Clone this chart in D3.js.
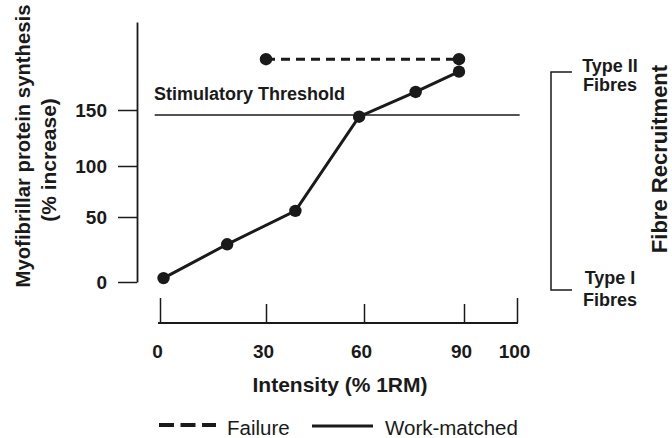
<!DOCTYPE html>
<html>
<head>
<meta charset="utf-8">
<script src="https://cdn.jsdelivr.net/npm/d3@7"></script>
<style>
  body { margin: 0; background: #fff; }
  text { font-family: "Liberation Sans", Arial, sans-serif; fill: #1a1a1a; }
</style>
</head>
<body>
<div id="chart"></div>
<script>
var svgWidth = 672;
var svgHeight = 438;

// data
var intensity = [1, 19, 39, 58.5, 75.5, 88.5];          // % 1RM, work-matched
var synthesis = [3, 29, 56, 144, 166, 184];              // % increase
var failureIntensity = [30, 88.5];
var failureSynthesis = [195, 195];
var threshold = 145.5;
var xTicks = [0, 30, 60, 90, 100];
var yTicks = [0, 50, 100, 150];

var ink = "#1a1a1a";

var svg = d3.select("#chart")
  .append("svg")
  .attr("width", svgWidth)
  .attr("height", svgHeight);

svg.append("rect")
  .attr("width", svgWidth)
  .attr("height", svgHeight)
  .attr("fill", "white");

// the figure is schematic, so tick spacing is not even: use piecewise scales
var x = d3.scaleLinear()
  .domain([0, 30, 60, 90, 100])
  .range([160, 266, 364, 464, 517]);

var y = d3.scaleLinear()
  .domain([0, 50, 100, 150, 228])
  .range([282, 217, 166, 110, 22]);

// y axis
var yAxis = svg.append("g")
  .attr("transform", "translate(137,0)")
  .call(d3.axisLeft(y).tickValues(yTicks).tickSizeInner(19).tickSizeOuter(0).tickPadding(11));
yAxis.select(".domain").attr("stroke", ink).attr("stroke-width", 1.8);
yAxis.selectAll(".tick line").attr("stroke", ink).attr("stroke-width", 1.5);
yAxis.selectAll(".tick text")
  .attr("font-size", "19px")
  .attr("font-weight", "bold")
  .attr("font-family", "Liberation Sans, Arial, sans-serif")
  .attr("fill", ink);

// x axis, drawn below the plot with ticks pointing up
var xAxis = svg.append("g")
  .attr("transform", "translate(0,323)")
  .call(d3.axisBottom(x).tickValues(xTicks).tickSizeInner(-19).tickSizeOuter(0).tickPadding(22));
xAxis.select(".domain").attr("stroke", ink).attr("stroke-width", 2).attr("d", "M158,0H518");
xAxis.selectAll(".tick line")
  .attr("stroke", ink)
  .attr("stroke-width", 1.5)
  .attr("y2", d => (d === 0 || d === 100) ? -25 : -19);
xAxis.selectAll(".tick text")
  .attr("font-size", "19px")
  .attr("font-weight", "bold")
  .attr("font-family", "Liberation Sans, Arial, sans-serif")
  .attr("fill", ink)
  .attr("dx", -3);

// stimulatory threshold
svg.append("line")
  .attr("x1", x(-1.5))
  .attr("x2", x(100.5))
  .attr("y1", y(threshold))
  .attr("y2", y(threshold))
  .attr("stroke", ink)
  .attr("stroke-width", 1.5);

svg.append("text")
  .attr("x", 154)
  .attr("y", 100)
  .attr("font-size", "18px")
  .attr("font-weight", "bold")
  .text("Stimulatory Threshold");

// series
var line = d3.line()
  .x(d => x(d[0]))
  .y(d => y(d[1]));

var failure = d3.zip(failureIntensity, failureSynthesis);
var work = d3.zip(intensity, synthesis);

svg.append("path")
  .datum(failure)
  .attr("d", line)
  .attr("fill", "none")
  .attr("stroke", ink)
  .attr("stroke-width", 3)
  .attr("stroke-dasharray", "9,6");

svg.append("path")
  .datum(work)
  .attr("d", line)
  .attr("fill", "none")
  .attr("stroke", ink)
  .attr("stroke-width", 3);

svg.selectAll("circle.pt")
  .data(failure.concat(work))
  .enter()
  .append("circle")
  .attr("class", "pt")
  .attr("cx", d => x(d[0]))
  .attr("cy", d => y(d[1]))
  .attr("r", 6.2)
  .attr("fill", ink);

// axis titles
svg.append("text")
  .attr("transform", "translate(340,392)")
  .attr("text-anchor", "middle")
  .attr("font-size", "21px")
  .attr("font-weight", "bold")
  .text("Intensity (% 1RM)");

svg.append("text")
  .attr("transform", "translate(30,146) rotate(-90)")
  .attr("text-anchor", "middle")
  .attr("font-size", "20.3px")
  .attr("font-weight", "bold")
  .text("Myofibrillar protein synthesis");

svg.append("text")
  .attr("transform", "translate(56,160) rotate(-90)")
  .attr("text-anchor", "middle")
  .attr("font-size", "21px")
  .attr("font-weight", "bold")
  .text("(% increase)");

// fibre recruitment bracket
svg.append("path")
  .attr("d", "M572,72H551V290H572")
  .attr("fill", "none")
  .attr("stroke", ink)
  .attr("stroke-width", 1.5);

var fibreLabels = [
  { t: "Type II", y: 72 },
  { t: "Fibres", y: 91 },
  { t: "Type I", y: 284 },
  { t: "Fibres", y: 306 }
];
svg.selectAll("text.fibre")
  .data(fibreLabels)
  .enter()
  .append("text")
  .attr("class", "fibre")
  .attr("x", 610)
  .attr("y", d => d.y)
  .attr("text-anchor", "middle")
  .attr("font-size", "18px")
  .attr("font-weight", "bold")
  .text(d => d.t);

svg.append("text")
  .attr("transform", "translate(667,159) rotate(-90)")
  .attr("text-anchor", "middle")
  .attr("font-size", "22px")
  .attr("font-weight", "bold")
  .text("Fibre Recruitment");

// legend
var legend = svg.append("g");
legend.append("line")
  .attr("x1", 159).attr("x2", 216)
  .attr("y1", 425).attr("y2", 425)
  .attr("stroke", ink)
  .attr("stroke-width", 4)
  .attr("stroke-dasharray", "15,6.5");
legend.append("text")
  .attr("x", 227).attr("y", 435)
  .attr("font-size", "20.5px")
  .text("Failure");
legend.append("line")
  .attr("x1", 312).attr("x2", 373)
  .attr("y1", 426).attr("y2", 426)
  .attr("stroke", ink)
  .attr("stroke-width", 3);
legend.append("text")
  .attr("x", 385).attr("y", 435)
  .attr("font-size", "20.5px")
  .text("Work-matched");
</script>
</body>
</html>
